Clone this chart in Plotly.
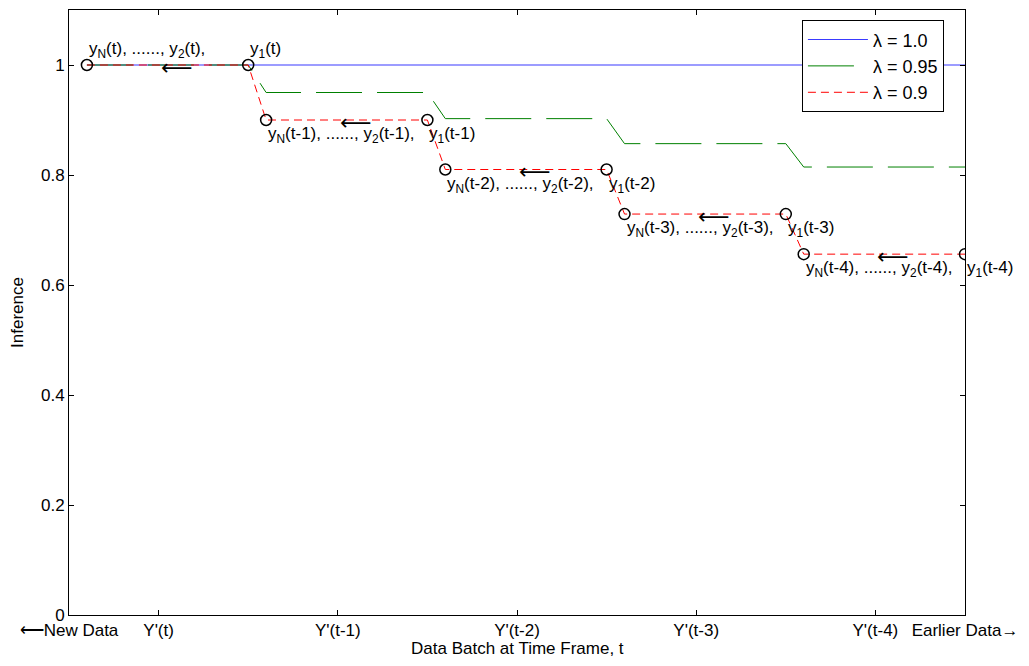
import plotly.graph_objects as go

# Data
x_pts = [0.1, 1.0, 1.1, 2.0, 2.1, 3.0, 3.1, 4.0, 4.1, 5.0]
y_lam10 = [1, 1, 1, 1, 1, 1, 1, 1, 1, 1]
y_lam095 = [1, 1, 0.95, 0.95, 0.9025, 0.9025, 0.857, 0.857, 0.8145, 0.8145]
y_lam09 = [1, 1, 0.9, 0.9, 0.81, 0.81, 0.729, 0.729, 0.6561, 0.6561]

tick_vals = [0, 0.5, 1.5, 2.5, 3.5, 4.5, 5]
tick_text = ["⟵New Data", "Y'(t)", "Y'(t-1)", "Y'(t-2)", "Y'(t-3)", "Y'(t-4)", "Earlier Data→"]
y_ticks = [0, 0.2, 0.4, 0.6, 0.8, 1.0]
y_ticktext = ["0", "0.2", "0.4", "0.6", "0.8", "1"]

frames = ["t", "t-1", "t-2", "t-3", "t-4"]
arrow_x = [0.6, 1.6, 2.6, 3.6, 4.6]

FONT = "Liberation Sans, Arial, sans-serif"
FS = 17

fig = go.Figure()
fig.add_trace(go.Scatter(x=x_pts, y=y_lam10, mode="lines", name="λ = 1.0",
                         line=dict(color="#3a3aff", width=1.2)))
fig.add_trace(go.Scatter(x=x_pts, y=y_lam095, mode="lines", name="λ = 0.95",
                         line=dict(color="#008000", width=1, dash="46px,15px")))
fig.add_trace(go.Scatter(x=x_pts, y=y_lam09, mode="lines", name="λ = 0.9",
                         line=dict(color="#ff0000", width=1, dash="8px,5px")))
fig.add_trace(go.Scatter(x=x_pts, y=y_lam09, mode="markers", showlegend=False,
                         marker=dict(symbol="circle-open", size=11, color="black",
                                     line=dict(width=1.5, color="black"))))

annotations = []
tfont = dict(size=FS, family=FONT, color="black")
for i, f in enumerate(frames):
    xn = x_pts[2 * i]
    yn = y_lam09[2 * i]
    x1 = x_pts[2 * i + 1]
    y1 = y_lam09[2 * i + 1]
    label_n = f"y<sub>N</sub>({f}), ......, y<sub>2</sub>({f}),"
    label_1 = f"y<sub>1</sub>({f})"
    if i == 0:
        annotations.append(dict(x=xn, y=yn, text=label_n, xanchor="left", yanchor="bottom",
                                yshift=2, showarrow=False, font=tfont))
        annotations.append(dict(x=x1, y=y1, text=label_1, xanchor="left", yanchor="bottom",
                                yshift=2, showarrow=False, font=tfont))
    else:
        annotations.append(dict(x=xn, y=yn, text=label_n, xanchor="left", yanchor="top",
                                yshift=-2, showarrow=False, font=tfont))
        annotations.append(dict(x=x1, y=y1, text=label_1, xanchor="left", yanchor="top",
                                yshift=-2, showarrow=False, font=tfont))
    annotations.append(dict(x=arrow_x[i], y=yn, text="⟵", xanchor="center", yanchor="middle",
                            yshift=-2, showarrow=False,
                            font=dict(size=22, family="DejaVu Sans", color="black")))

# x-axis title placed as a paper annotation
annotations.append(dict(x=0.5, y=-0.055, xref="paper", yref="paper",
                        text="Data Batch at Time Frame, t", xanchor="center", yanchor="middle",
                        showarrow=False, font=tfont))

# page body has an 8px margin: size the figure to fit inside it
fig.update_layout(
    width=1013, height=650,
    margin=dict(l=61, r=56, t=2, b=43),
    paper_bgcolor="white", plot_bgcolor="white",
    font=dict(family=FONT, size=FS, color="black"),
    showlegend=True,
    legend=dict(x=0.818, y=0.983, xanchor="left", yanchor="top",
                bgcolor="white", bordercolor="black", borderwidth=1,
                font=dict(size=18, family=FONT), itemwidth=60,
                tracegroupgap=0),
    annotations=annotations,
)
fig.update_xaxes(range=[0, 5], tickvals=tick_vals, ticktext=tick_text, automargin=False,
                 showline=True, linecolor="black", linewidth=1, mirror="ticks",
                 ticks="inside", ticklen=5, tickcolor="black", showgrid=False, zeroline=False)
fig.update_yaxes(range=[0, 1.1], tickvals=y_ticks, ticktext=y_ticktext, automargin=False,
                 showline=True, linecolor="black", linewidth=1, mirror="ticks",
                 ticks="inside", ticklen=5, tickcolor="black", showgrid=False, zeroline=False,
                 title=dict(text="Inference", font=dict(size=FS, family=FONT)))

fig.write_html("out.html")
